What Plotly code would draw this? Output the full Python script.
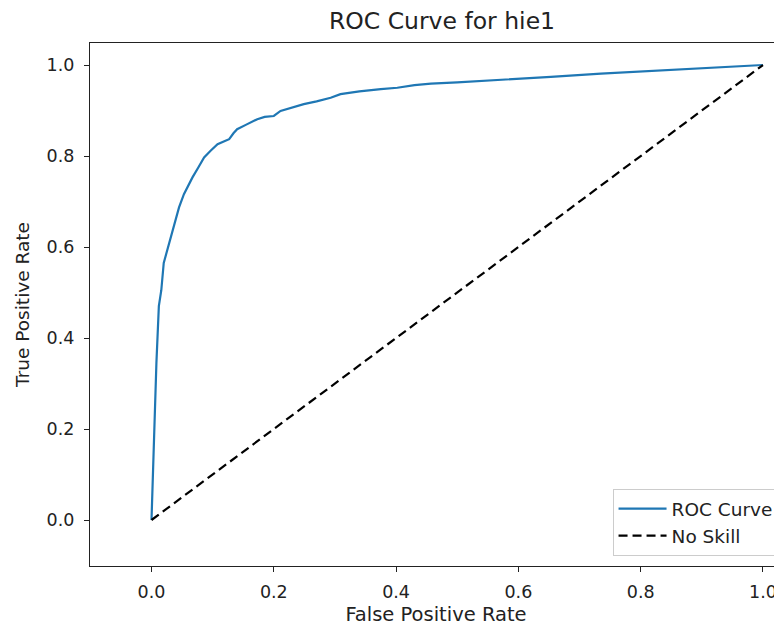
import plotly.graph_objects as go

fpr = [0.0, 0.004, 0.008, 0.012, 0.016, 0.020, 0.023, 0.027, 0.031, 0.036, 0.040, 0.045,
       0.053, 0.060, 0.067, 0.077, 0.086, 0.097, 0.108, 0.120, 0.127, 0.134, 0.140, 0.155,
       0.173, 0.185, 0.200, 0.211, 0.230, 0.249, 0.270, 0.293, 0.309, 0.340, 0.375, 0.402,
       0.430, 0.457, 0.500, 0.571, 0.653, 0.735, 0.817, 0.899, 0.950, 1.0]
tpr = [0.0, 0.200, 0.345, 0.470, 0.505, 0.565, 0.580, 0.600, 0.621, 0.640, 0.662, 0.687,
       0.716, 0.735, 0.753, 0.776, 0.797, 0.812, 0.826, 0.833, 0.837, 0.850, 0.859, 0.869,
       0.881, 0.886, 0.888, 0.899, 0.907, 0.914, 0.920, 0.928, 0.936, 0.942, 0.947, 0.950,
       0.956, 0.959, 0.962, 0.967, 0.974, 0.981, 0.987, 0.993, 0.996, 1.0]
skill_x = [0.0, 1.0]
skill_y = [0.0, 1.0]
tick_vals = [0.0, 0.2, 0.4, 0.6, 0.8, 1.0]
tick_text = ["0.0", "0.2", "0.4", "0.6", "0.8", "1.0"]

FONT = "DejaVu Sans"
W, H = 774, 618  # page body has an 8px margin inside the 782x626 window

fig = go.Figure()
fig.add_trace(go.Scatter(x=fpr, y=tpr, mode="lines", name="ROC Curve",
                         line=dict(color="#1f77b4", width=2.2)))
fig.add_trace(go.Scatter(x=skill_x, y=skill_y, mode="lines", name="No Skill",
                         line=dict(color="black", width=2.2, dash="9px,5px")))

axis_common = dict(showgrid=False, zeroline=False, showline=True, linecolor="#222222",
                   linewidth=1.2, ticks="outside", ticklen=5, tickwidth=1.2,
                   tickcolor="#222222",
                   tickvals=tick_vals, ticktext=tick_text,
                   tickfont=dict(family=FONT, size=17.5, color="#222222"))

fig.update_layout(
    width=W, height=H,
    margin=dict(l=82, r=0, t=35, b=60, pad=0),
    paper_bgcolor="white", plot_bgcolor="white",
    font=dict(family=FONT, color="#222222"),
    title=dict(text="ROC Curve for hie1", x=(442 - 8) / W, xref="container",
               xanchor="center", y=1 - 13 / H, yref="container", yanchor="middle",
               font=dict(family=FONT, size=23.5, color="#222222")),
    xaxis=dict(range=[-0.1006, 1.0311], mirror=True, ticklabelstandoff=5,
               title=dict(text="False Positive Rate", standoff=8,
                          font=dict(family=FONT, size=19.5, color="#222222")),
               **axis_common),
    yaxis=dict(range=[-0.1011, 1.0484], ticklabelstandoff=6,
               title=dict(text="True Positive Rate", standoff=12,
                          font=dict(family=FONT, size=18.5, color="#222222")),
               **axis_common),
    legend=dict(x=0.995, xanchor="right", y=0.019, yanchor="bottom",
                bgcolor="white", bordercolor="#cccccc", borderwidth=1,
                font=dict(family=FONT, size=18.5, color="#222222"),
                itemwidth=48),
    showlegend=True,
)

fig.write_html("out.html")
